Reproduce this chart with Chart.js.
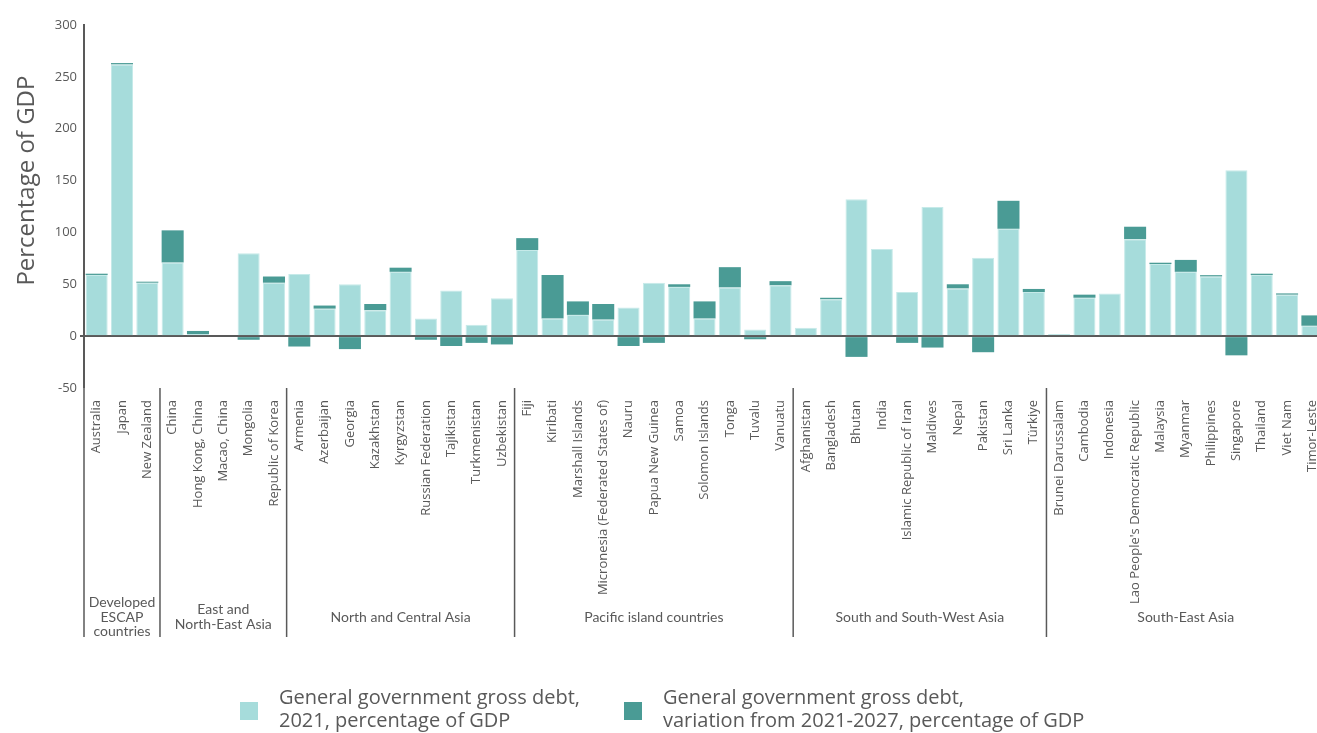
<!DOCTYPE html>
<html>
<head>
<meta charset="utf-8">
<script src="https://cdn.jsdelivr.net/npm/chart.js@4.4.0/dist/chart.umd.min.js"></script>
<style>
  html, body { margin: 0; padding: 0; overflow: hidden; background: #fff; }
</style>
</head>
<body>
<canvas id="myChart" width="1332" height="733"></canvas>
<script>
// countries, in group order
const countries = [
  "Australia", "Japan", "New Zealand",
  "China", "Hong Kong, China", "Macao, China", "Mongolia", "Republic of Korea",
  "Armenia", "Azerbaijan", "Georgia", "Kazakhstan", "Kyrgyzstan", "Russian Federation", "Tajikistan", "Turkmenistan", "Uzbekistan",
  "Fiji", "Kiribati", "Marshall Islands", "Micronesia (Federated States of)", "Nauru", "Papua New Guinea", "Samoa", "Solomon Islands", "Tonga", "Tuvalu", "Vanuatu",
  "Afghanistan", "Bangladesh", "Bhutan", "India", "Islamic Republic of Iran", "Maldives", "Nepal", "Pakistan", "Sri Lanka", "Türkiye",
  "Brunei Darussalam", "Cambodia", "Indonesia", "Lao People's Democratic Republic", "Malaysia", "Myanmar", "Philippines", "Singapore", "Thailand", "Viet Nam", "Timor-Leste"
];

// debt 2021, % of GDP
const debt2021 = [
  59, 262, 51.5,
  71, 2, null, 80, 51.5,
  60, 26.5, 50, 25, 62, 17, 44, 11, 36.5,
  83, 17, 20.5, 16, 27.5, 51.5, 47.5, 17, 47, 6.5, 49,
  8, 35.5, 132, 84, 42.5, 124.5, 46, 75.5, 103.5, 42.5,
  2, 37, 41, 93.5, 69.5, 62, 57.5, 160, 59, 40, 10
];

// change 2021-2027, % of GDP
const variation = [
  1.2, 1.3, 1,
  31, 3, null, -3.5, 6,
  -10, 3, -12.5, 6, 4, -3.5, -9.5, -6.5, -8,
  11.5, 42, 13, 15, -9.5, -6.5, 2.5, 16.5, 19.5, -3, 4,
  0, 1.5, -20, 0, -6.5, -11, 4, -15.5, 27, 3,
  0, 3, 0, 12, 1.3, 11.5, 1.3, -18.5, 1.2, 1.2, 10
];

const groupNames = [
  ["Developed", "ESCAP", "countries"],
  ["East and", "North-East Asia"],
  ["North and Central Asia"],
  ["Pacific island countries"],
  ["South and South-West Asia"],
  ["South-East Asia"]
];
const groupSizes = [3, 5, 9, 11, 10, 11];

const seriesLabels = [
  ["General government gross debt,", "2021, percentage of GDP"],
  ["General government gross debt,", "variation from 2021-2027, percentage of GDP"]
];
const lightColor = "#a6dcdb";
const darkColor = "#4a9b95";
const axisColor = "#595959";

const extras = {
  id: "extras",
  afterDraw(chart) {
    const ctx = chart.ctx;
    const x = chart.scales.x;
    const area = chart.chartArea;
    const step = x.width / countries.length;
    ctx.save();

    // group separators and names
    ctx.strokeStyle = axisColor;
    ctx.lineWidth = 1.5;
    ctx.fillStyle = axisColor;
    ctx.font = "14px Lato, sans-serif";
    ctx.textAlign = "center";
    ctx.textBaseline = "middle";
    let start = 0;
    groupSizes.forEach((n, g) => {
      const left = x.getPixelForValue(start) - step / 2;
      const right = x.getPixelForValue(start + n - 1) + step / 2;
      ctx.beginPath();
      ctx.moveTo(left, area.bottom);
      ctx.lineTo(left, 637);
      ctx.stroke();
      const lines = groupNames[g];
      const mid = 617;
      const lh = 14.5;
      lines.forEach((t, i) => {
        ctx.fillText(t, (left + right) / 2, mid + (i - (lines.length - 1) / 2) * lh);
      });
      start += n;
    });

    // y axis title
    ctx.save();
    ctx.translate(27, (chart.scales.y.getPixelForValue(300) + chart.scales.y.getPixelForValue(0)) / 2);
    ctx.rotate(-Math.PI / 2);
    ctx.font = "24px 'Open Sans', sans-serif";
    ctx.fillText("Percentage of GDP", 0, 0);
    ctx.restore();

    // legend
    const items = [[240, lightColor], [624, darkColor]];
    ctx.textAlign = "left";
    ctx.font = "20px 'Open Sans', sans-serif";
    items.forEach(([lx, col], i) => {
      ctx.fillStyle = col;
      ctx.fillRect(lx, 702, 18, 18);
      ctx.fillStyle = axisColor;
      ctx.fillText(seriesLabels[i][0], lx + 39, 698);
      ctx.fillText(seriesLabels[i][1], lx + 39, 721);
    });
    ctx.restore();
  }
};

const ctx = document.getElementById("myChart").getContext("2d");

new Chart(ctx, {
  type: "bar",
  data: {
    labels: countries,
    datasets: [{
      label: seriesLabels[0].join(" "),
      data: debt2021,
      backgroundColor: lightColor,
      borderColor: "#c6eae9",
      borderWidth: 1,
      categoryPercentage: 1,
      barPercentage: 0.87,
    }, {
      label: seriesLabels[1].join(" "),
      data: variation,
      backgroundColor: darkColor,
      borderWidth: 0,
      categoryPercentage: 1,
      barPercentage: 0.87,
    }],
  },
  options: {
    responsive: false,
    animation: false,
    devicePixelRatio: 1,
    layout: { padding: { top: 25, left: 0, right: 0, bottom: 0 } },
    plugins: {
      legend: { display: false },
      tooltip: { enabled: false },
    },
    scales: {
      x: {
        stacked: true,
        grid: { display: false },
        border: { display: false },
        ticks: {
          autoSkip: false,
          minRotation: 90,
          maxRotation: 90,
          padding: 4,
          color: axisColor,
          font: { family: "'Open Sans', sans-serif", size: 13 },
        },
        afterFit(scale) { scale.height = 345; },
      },
      y: {
        stacked: true,
        min: -50,
        max: 300,
        z: 1,
        ticks: {
          stepSize: 50,
          padding: 3,
          color: axisColor,
          font: { family: "'Open Sans', sans-serif", size: 13 },
        },
        grid: {
          color: (c) => (c.tick && c.tick.value === 0 ? axisColor : "rgba(0,0,0,0)"),
          lineWidth: (c) => (c.tick && c.tick.value === 0 ? 2 : 0),
          tickColor: axisColor,
          tickLength: 4,
        },
        border: { color: axisColor, width: 2 },
        afterFit(scale) { scale.width = 84; },
      },
    },
  },
  plugins: [extras],
});
</script>
</body>
</html>
